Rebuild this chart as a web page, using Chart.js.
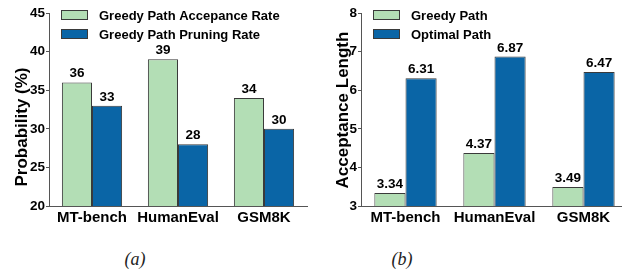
<!DOCTYPE html>
<html lang="en">
<head>
    <meta charset="UTF-8">
    <title>Greedy vs Optimal Path</title>
    <script src="https://cdn.jsdelivr.net/npm/chart.js"></script>
    <style>
        body {
            margin: 0;
            width: 622px;
            height: 269px;
            overflow: hidden;
            background: #ffffff;
            position: relative;
            font-family: "Liberation Sans", Arial, sans-serif;
        }
        .box {
            position: absolute;
            top: 0;
            height: 230px;
        }
        .caption {
            position: absolute;
            top: 249px;
            width: 40px;
            line-height: 20px;
            text-align: center;
            font-family: "Liberation Serif", "Times New Roman", serif;
            font-style: italic;
            font-size: 18px;
            color: #222;
        }
    </style>
</head>
<body>
    <div class="box" style="left: 0; width: 311px;"><canvas id="chartA"></canvas></div>
    <div class="box" style="left: 311px; width: 320px;"><canvas id="chartB"></canvas></div>
    <div class="caption" style="left: 115px;">(a)</div>
    <div class="caption" style="left: 382px;">(b)</div>

    <script>
        // data
        const benchmarks = ['MT-bench', 'HumanEval', 'GSM8K'];

        const acceptRate = [36, 39, 34];
        const pruneRate = [33, 28, 30];
        const rateTicks = [20, 25, 30, 35, 40, 45];

        const greedyLen = [3.34, 4.37, 3.49];
        const optimalLen = [6.31, 6.87, 6.47];
        const lenTicks = [3, 4, 5, 6, 7, 8];

        const GREEN = '#b3deb5';
        const BLUE = '#0a65a6';
        const EDGE = '#3a3a3a';
        const FONT = '"Liberation Sans", Arial, sans-serif';

        // value labels above bars, legend inside the plot, rotated y title
        const decorations = {
            id: 'decorations',
            afterDatasetsDraw(chart, args, opts) {
                const ctx = chart.ctx;
                const area = chart.chartArea;
                ctx.save();

                // bar values
                ctx.font = 'bold 13.5px ' + FONT;
                ctx.fillStyle = '#000';
                ctx.textAlign = 'center';
                ctx.textBaseline = 'bottom';
                chart.data.datasets.forEach((ds, i) => {
                    chart.getDatasetMeta(i).data.forEach((bar, j) => {
                        ctx.fillText(String(ds.data[j]), bar.x, bar.y - 2);
                    });
                });

                // legend
                ctx.font = 'bold 13px ' + FONT;
                ctx.textAlign = 'left';
                ctx.textBaseline = 'middle';
                chart.data.datasets.forEach((ds, i) => {
                    const x = area.left + 12;
                    const cy = area.top + 2 + i * 19;
                    ctx.fillStyle = ds.backgroundColor;
                    ctx.fillRect(x, cy - 5, 27, 10);
                    ctx.strokeStyle = EDGE;
                    ctx.lineWidth = 1;
                    ctx.strokeRect(x + 0.5, cy - 4.5, 26, 9);
                    ctx.fillStyle = '#000';
                    ctx.fillText(ds.label, x + 38, cy + 1);
                });

                // y axis title
                ctx.font = 'bold 17px ' + FONT;
                ctx.translate(opts.titleX, opts.titleY);
                ctx.rotate(-Math.PI / 2);
                ctx.textAlign = 'center';
                ctx.textBaseline = 'middle';
                ctx.fillText(opts.title, 0, 0);
                ctx.restore();
            }
        };

        function makeChart(id, labels, sets, ticks, title, titleX, titleY, pad) {
            return new Chart(document.getElementById(id), {
                type: 'bar',
                data: {
                    labels: labels,
                    datasets: sets.map(s => ({
                        label: s.label,
                        data: s.data,
                        backgroundColor: s.color,
                        borderColor: EDGE,
                        borderWidth: 1,
                        borderSkipped: false,
                        categoryPercentage: 0.7,
                        barPercentage: 1.0
                    }))
                },
                options: {
                    responsive: true,
                    maintainAspectRatio: false,
                    animation: false,
                    layout: { padding: pad },
                    plugins: {
                        legend: { display: false },
                        tooltip: { enabled: false },
                        decorations: { title: title, titleX: titleX, titleY: titleY }
                    },
                    scales: {
                        x: {
                            grid: { display: false, drawTicks: false },
                            border: { display: true, color: '#555', width: 1 },
                            ticks: {
                                color: '#000',
                                padding: 3,
                                autoSkip: false,
                                maxRotation: 0,
                                minRotation: 0,
                                font: { family: FONT, size: 15, weight: 'bold' }
                            },
                            afterFit(s) { s.height = 24; }
                        },
                        y: {
                            min: ticks[0],
                            max: ticks[ticks.length - 1],
                            afterBuildTicks(s) { s.ticks = ticks.map(v => ({ value: v })); },
                            grid: { drawOnChartArea: false, tickLength: 3, color: '#555' },
                            border: { display: true, color: '#555', width: 1 },
                            ticks: {
                                color: '#000',
                                padding: 1,
                                font: { family: FONT, size: 13.5, weight: 'bold' }
                            },
                            afterFit(s) { s.width = 20; }
                        }
                    }
                },
                plugins: [decorations]
            });
        }

        makeChart('chartA', benchmarks, [
            { label: 'Greedy Path Accepance Rate', data: acceptRate, color: GREEN },
            { label: 'Greedy Path Pruning Rate', data: pruneRate, color: BLUE }
        ], rateTicks, 'Probability (%)', 22, 127,
            { left: 29, top: 13, right: 4, bottom: 0 });

        makeChart('chartB', benchmarks, [
            { label: 'Greedy Path', data: greedyLen, color: GREEN },
            { label: 'Optimal Path', data: optimalLen, color: BLUE }
        ], lenTicks, 'Acceptance Length', 32, 110,
            { left: 30, top: 13, right: 3, bottom: 0 });
    </script>
</body>
</html>
